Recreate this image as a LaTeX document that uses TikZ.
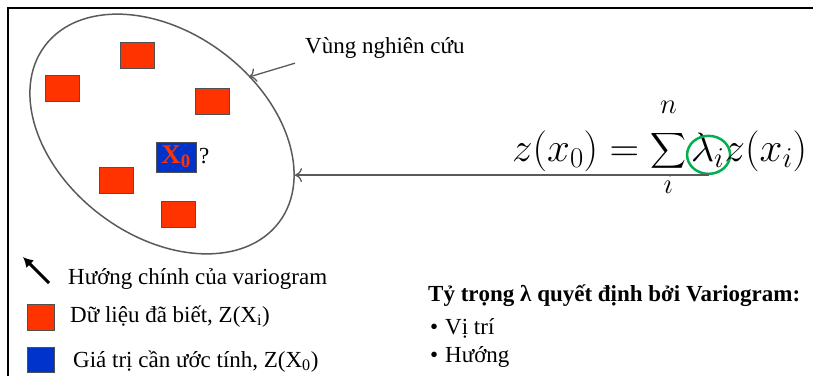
\RequirePackage{fix-cm}
\documentclass[tikz,border=0pt]{standalone}
\usepackage{amsmath}
\usepackage{fontspec}
\setmainfont{Liberation Serif}
\usepackage{tikz}
\usetikzlibrary{arrows.meta, shapes.geometric, positioning}
\usepackage{xcolor}
\definecolor{datared}{RGB}{255,51,0}
\definecolor{datablue}{RGB}{0,51,204}
\definecolor{boxedge}{RGB}{80,80,80}
\definecolor{ringgreen}{RGB}{0,176,80}
\definecolor{linegray}{RGB}{90,90,90}

\begin{document}
\begin{tikzpicture}[x=1pt, y=-1pt,
    known/.style={draw=boxedge, line width=1pt, fill=datared, minimum width=34pt, minimum height=26pt, inner sep=0pt},
    target/.style={draw=boxedge, line width=1pt, fill=datablue, minimum width=40pt, minimum height=30pt, inner sep=0pt},
    txt/.style={anchor=base west, inner sep=0pt, font=\fontsize{23}{27}\selectfont},
    bigmath/.style={anchor=base west, inner sep=0pt, font=\fontsize{41}{49}\selectfont},
    pointer/.style={draw=linegray, line width=1.3pt, -{To[length=7pt,width=14pt]}}]

    % Define parameters
    \def\tilt{-37}   % Tilt of the study region
    \def\cx{162}     % Centre of the study region
    \def\cy{134}

    \useasboundingbox (0,0) rectangle (813,376);

    % Frame, only top and left edges show
    \draw[line width=2.2pt] (813,8) -- (8,8) -- (8,376);

    % Study region
    \draw[linegray, line width=1.5pt, rotate around={\tilt:(\cx,\cy)}]
        (\cx,\cy) ellipse [x radius=146.6pt, y radius=101.6pt];
    \coordinate (regionR) at (295,180);
    \coordinate (regionT) at (249,77);

    % Known samples
    \node[known] (k1) at (137,55) {};
    \node[known] (k2) at (62,88) {};
    \node[known] (k3) at (212,101) {};
    \node[known] (k4) at (116,180) {};
    \node[known] (k5) at (178,214) {};

    % Point to estimate
    \node[target, font=\fontsize{27}{30}\selectfont\bfseries] (x0) at (176,157)
        {\textcolor{datared}{X\textsubscript{0}}};
    \node[txt] (ask) at (199,163) {?};

    % Region label
    \node[txt] (region) at (305,53) {Vùng nghiên cứu};
    \draw[pointer] ([xshift=-10pt, yshift=-5pt]region.south west) -- (regionT);

    % Kriging estimate
    \node[bigmath] (lhs) at (512,161) {$\displaystyle z(x_0)=\sum_{i}^{\raisebox{12pt}{$\scriptstyle n$}}$};
    \node[bigmath, xshift=4pt] (lam) at (lhs.base east) {$\lambda_i$};
    \node[draw=ringgreen, line width=2.5pt, ellipse, minimum width=43pt, minimum height=38pt, inner sep=0pt]
        (ring) at ([xshift=1pt, yshift=-5pt]lam.center) {};
    \node[bigmath] (rhs) at (lam.base east) {$z(x_i)$};
    \draw[pointer] (ring.south) -- (ring.south -| regionR);

    % Legend
    \coordinate (dirtail) at (49,283);
    \coordinate (dirtip) at (23,257);
    \draw[line width=3pt, -{Latex[length=10pt,width=11pt]}] (dirtail) -- (dirtip);
    \node[txt] (lgdir) at (68,284) {Hướng chính của variogram};
    \node[known, minimum width=27pt] (lgknown) at (40.5,317) {};
    \node[txt] (lgknowntxt) at (70,322) {Dữ liệu đã biết, Z(X\textsubscript{i})};
    \node[target, minimum width=27pt, minimum height=25pt] (lgtarget) at (40.5,359.5) {};
    \node[txt] (lgtargettxt) at (73,367) {Giá trị cần ước tính, Z(X\textsubscript{0})};

    % Weights
    \node[txt, font=\fontsize{23}{27}\selectfont\bfseries] (weights) at (428,301)
        {Tỷ trọng λ quyết định bởi Variogram:};
    \node[txt] (pos) at (430,334) {\textbullet\hspace{7pt}Vị trí};
    \node[txt] (dir) at (430,362) {\textbullet\hspace{7pt}Hướng};

\end{tikzpicture}
\end{document}
